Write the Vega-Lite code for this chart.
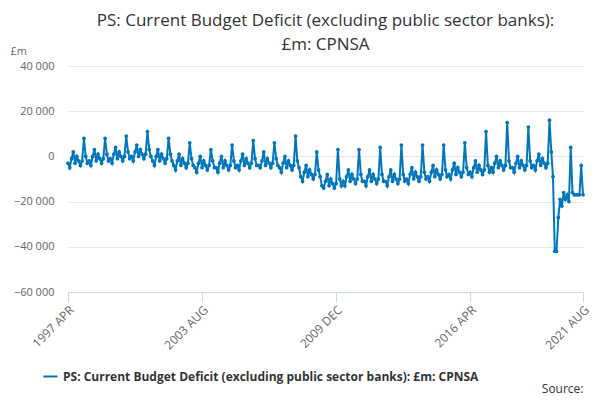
{
  "$schema": "https://vega.github.io/schema/vega-lite/v6.json",
  "width": 600,
  "height": 400,
  "autosize": {"type": "fit", "contains": "padding"},
  "padding": {"left": 10, "right": 9, "top": 12, "bottom": 5},
  "title": {
    "text": ["PS: Current Budget Deficit (excluding public sector banks):", "£m: CPNSA"],
    "fontSize": 17, "fontWeight": "normal", "color": "#333333", "font": "Open Sans", "lineHeight": 24, "offset": -9
  },
  "data": {"values": [
    {"d":"1997-04","v":-3000},{"d":"1997-05","v":-5000},{"d":"1997-06","v":-1000},{"d":"1997-07","v":2000},{"d":"1997-08","v":-3000},{"d":"1997-09","v":0},{"d":"1997-10","v":-2000},{"d":"1997-11","v":-4000},{"d":"1997-12","v":-2000},{"d":"1998-01","v":8000},{"d":"1998-02","v":0},{"d":"1998-03","v":-3000},
    {"d":"1998-04","v":-2000},{"d":"1998-05","v":-4000},{"d":"1998-06","v":0},{"d":"1998-07","v":3000},{"d":"1998-08","v":-2000},{"d":"1998-09","v":1000},{"d":"1998-10","v":-1000},{"d":"1998-11","v":-3000},{"d":"1998-12","v":-1000},{"d":"1999-01","v":8000},{"d":"1999-02","v":1000},{"d":"1999-03","v":-2000},
    {"d":"1999-04","v":-1000},{"d":"1999-05","v":-3000},{"d":"1999-06","v":1000},{"d":"1999-07","v":4000},{"d":"1999-08","v":-1000},{"d":"1999-09","v":2000},{"d":"1999-10","v":0},{"d":"1999-11","v":-2000},{"d":"1999-12","v":0},{"d":"2000-01","v":9000},{"d":"2000-02","v":2000},{"d":"2000-03","v":-1000},
    {"d":"2000-04","v":0},{"d":"2000-05","v":-2000},{"d":"2000-06","v":2000},{"d":"2000-07","v":5000},{"d":"2000-08","v":0},{"d":"2000-09","v":3000},{"d":"2000-10","v":1000},{"d":"2000-11","v":-1000},{"d":"2000-12","v":1000},{"d":"2001-01","v":11000},{"d":"2001-02","v":3000},{"d":"2001-03","v":0},
    {"d":"2001-04","v":-2000},{"d":"2001-05","v":-4000},{"d":"2001-06","v":0},{"d":"2001-07","v":3000},{"d":"2001-08","v":-2000},{"d":"2001-09","v":1000},{"d":"2001-10","v":-1000},{"d":"2001-11","v":-3000},{"d":"2001-12","v":-1000},{"d":"2002-01","v":8000},{"d":"2002-02","v":1000},{"d":"2002-03","v":-2000},
    {"d":"2002-04","v":-4000},{"d":"2002-05","v":-6000},{"d":"2002-06","v":-2000},{"d":"2002-07","v":1000},{"d":"2002-08","v":-4000},{"d":"2002-09","v":-1000},{"d":"2002-10","v":-3000},{"d":"2002-11","v":-5000},{"d":"2002-12","v":-3000},{"d":"2003-01","v":6000},{"d":"2003-02","v":-1000},{"d":"2003-03","v":-4000},
    {"d":"2003-04","v":-5000},{"d":"2003-05","v":-7000},{"d":"2003-06","v":-3000},{"d":"2003-07","v":0},{"d":"2003-08","v":-5000},{"d":"2003-09","v":-2000},{"d":"2003-10","v":-4000},{"d":"2003-11","v":-6000},{"d":"2003-12","v":-4000},{"d":"2004-01","v":3000},{"d":"2004-02","v":-2000},{"d":"2004-03","v":-5000},
    {"d":"2004-04","v":-5000},{"d":"2004-05","v":-7000},{"d":"2004-06","v":-3000},{"d":"2004-07","v":0},{"d":"2004-08","v":-5000},{"d":"2004-09","v":-2000},{"d":"2004-10","v":-4000},{"d":"2004-11","v":-6000},{"d":"2004-12","v":-4000},{"d":"2005-01","v":5000},{"d":"2005-02","v":-2000},{"d":"2005-03","v":-5000},
    {"d":"2005-04","v":-4000},{"d":"2005-05","v":-6000},{"d":"2005-06","v":-2000},{"d":"2005-07","v":1000},{"d":"2005-08","v":-4000},{"d":"2005-09","v":-1000},{"d":"2005-10","v":-3000},{"d":"2005-11","v":-5000},{"d":"2005-12","v":-3000},{"d":"2006-01","v":7000},{"d":"2006-02","v":-1000},{"d":"2006-03","v":-4000},
    {"d":"2006-04","v":-4000},{"d":"2006-05","v":-5000},{"d":"2006-06","v":-2000},{"d":"2006-07","v":2000},{"d":"2006-08","v":-4000},{"d":"2006-09","v":-1000},{"d":"2006-10","v":-3000},{"d":"2006-11","v":-5000},{"d":"2006-12","v":-3000},{"d":"2007-01","v":6000},{"d":"2007-02","v":-1000},{"d":"2007-03","v":-4000},
    {"d":"2007-04","v":-5000},{"d":"2007-05","v":-7000},{"d":"2007-06","v":-3000},{"d":"2007-07","v":0},{"d":"2007-08","v":-5000},{"d":"2007-09","v":-2000},{"d":"2007-10","v":-4000},{"d":"2007-11","v":-6000},{"d":"2007-12","v":-4000},{"d":"2008-01","v":9000},{"d":"2008-02","v":-2000},{"d":"2008-03","v":-5000},
    {"d":"2008-04","v":-9000},{"d":"2008-05","v":-11000},{"d":"2008-06","v":-7000},{"d":"2008-07","v":-4000},{"d":"2008-08","v":-9000},{"d":"2008-09","v":-6000},{"d":"2008-10","v":-8000},{"d":"2008-11","v":-10000},{"d":"2008-12","v":-8000},{"d":"2009-01","v":2000},{"d":"2009-02","v":-6000},{"d":"2009-03","v":-9000},
    {"d":"2009-04","v":-13000},{"d":"2009-05","v":-14000},{"d":"2009-06","v":-11000},{"d":"2009-07","v":-8000},{"d":"2009-08","v":-13000},{"d":"2009-09","v":-10000},{"d":"2009-10","v":-12000},{"d":"2009-11","v":-14000},{"d":"2009-12","v":-12000},{"d":"2010-01","v":3000},{"d":"2010-02","v":-10000},{"d":"2010-03","v":-13000},
    {"d":"2010-04","v":-11000},{"d":"2010-05","v":-13000},{"d":"2010-06","v":-9000},{"d":"2010-07","v":-6000},{"d":"2010-08","v":-11000},{"d":"2010-09","v":-8000},{"d":"2010-10","v":-10000},{"d":"2010-11","v":-12000},{"d":"2010-12","v":-10000},{"d":"2011-01","v":3000},{"d":"2011-02","v":-8000},{"d":"2011-03","v":-11000},
    {"d":"2011-04","v":-11000},{"d":"2011-05","v":-13000},{"d":"2011-06","v":-9000},{"d":"2011-07","v":-6000},{"d":"2011-08","v":-11000},{"d":"2011-09","v":-8000},{"d":"2011-10","v":-10000},{"d":"2011-11","v":-12000},{"d":"2011-12","v":-10000},{"d":"2012-01","v":4000},{"d":"2012-02","v":-8000},{"d":"2012-03","v":-11000},
    {"d":"2012-04","v":-11000},{"d":"2012-05","v":-13000},{"d":"2012-06","v":-9000},{"d":"2012-07","v":-6000},{"d":"2012-08","v":-11000},{"d":"2012-09","v":-8000},{"d":"2012-10","v":-10000},{"d":"2012-11","v":-12000},{"d":"2012-12","v":-10000},{"d":"2013-01","v":5000},{"d":"2013-02","v":-8000},{"d":"2013-03","v":-11000},
    {"d":"2013-04","v":-10000},{"d":"2013-05","v":-12000},{"d":"2013-06","v":-8000},{"d":"2013-07","v":-5000},{"d":"2013-08","v":-10000},{"d":"2013-09","v":-7000},{"d":"2013-10","v":-9000},{"d":"2013-11","v":-11000},{"d":"2013-12","v":-9000},{"d":"2014-01","v":5000},{"d":"2014-02","v":-7000},{"d":"2014-03","v":-10000},
    {"d":"2014-04","v":-9000},{"d":"2014-05","v":-11000},{"d":"2014-06","v":-7000},{"d":"2014-07","v":-4000},{"d":"2014-08","v":-9000},{"d":"2014-09","v":-6000},{"d":"2014-10","v":-8000},{"d":"2014-11","v":-10000},{"d":"2014-12","v":-8000},{"d":"2015-01","v":5000},{"d":"2015-02","v":-6000},{"d":"2015-03","v":-9000},
    {"d":"2015-04","v":-8000},{"d":"2015-05","v":-10000},{"d":"2015-06","v":-6000},{"d":"2015-07","v":-3000},{"d":"2015-08","v":-8000},{"d":"2015-09","v":-5000},{"d":"2015-10","v":-7000},{"d":"2015-11","v":-9000},{"d":"2015-12","v":-7000},{"d":"2016-01","v":6000},{"d":"2016-02","v":-5000},{"d":"2016-03","v":-8000},
    {"d":"2016-04","v":-7000},{"d":"2016-05","v":-9000},{"d":"2016-06","v":-5000},{"d":"2016-07","v":-2000},{"d":"2016-08","v":-7000},{"d":"2016-09","v":-4000},{"d":"2016-10","v":-6000},{"d":"2016-11","v":-8000},{"d":"2016-12","v":-6000},{"d":"2017-01","v":11000},{"d":"2017-02","v":-4000},{"d":"2017-03","v":-7000},
    {"d":"2017-04","v":-5000},{"d":"2017-05","v":-7000},{"d":"2017-06","v":-3000},{"d":"2017-07","v":0},{"d":"2017-08","v":-5000},{"d":"2017-09","v":-2000},{"d":"2017-10","v":-4000},{"d":"2017-11","v":-6000},{"d":"2017-12","v":-4000},{"d":"2018-01","v":15000},{"d":"2018-02","v":-2000},{"d":"2018-03","v":-5000},
    {"d":"2018-04","v":-5000},{"d":"2018-05","v":-7000},{"d":"2018-06","v":-3000},{"d":"2018-07","v":0},{"d":"2018-08","v":-5000},{"d":"2018-09","v":-2000},{"d":"2018-10","v":-4000},{"d":"2018-11","v":-6000},{"d":"2018-12","v":-4000},{"d":"2019-01","v":13000},{"d":"2019-02","v":-2000},{"d":"2019-03","v":-5000},
    {"d":"2019-04","v":-4000},{"d":"2019-05","v":-6000},{"d":"2019-06","v":-2000},{"d":"2019-07","v":1000},{"d":"2019-08","v":-4000},{"d":"2019-09","v":-1000},{"d":"2019-10","v":-3000},{"d":"2019-11","v":-5000},{"d":"2019-12","v":-3000},{"d":"2020-01","v":16000},{"d":"2020-02","v":2000},{"d":"2020-03","v":-9000},
    {"d":"2020-04","v":-42000},{"d":"2020-05","v":-42000},{"d":"2020-06","v":-27000},{"d":"2020-07","v":-19000},{"d":"2020-08","v":-22000},{"d":"2020-09","v":-16000},{"d":"2020-10","v":-19000},{"d":"2020-11","v":-17000},{"d":"2020-12","v":-20000},{"d":"2021-01","v":4000},{"d":"2021-02","v":-16000},{"d":"2021-03","v":-17000},
    {"d":"2021-04","v":-17000},{"d":"2021-05","v":-17000},{"d":"2021-06","v":-17000},{"d":"2021-07","v":-4000},{"d":"2021-08","v":-17000}
  ]},
  "transform": [
    {"calculate": "'PS: Current Budget Deficit (excluding public sector banks): £m: CPNSA'", "as": "series"}
  ],
  "mark": {"type": "line", "color": "#0076bd", "strokeWidth": 2, "point": {"filled": true, "size": 14, "color": "#0076bd"}},
  "encoding": {
    "x": {
      "field": "d", "type": "temporal",
      "scale": {"domain": [{"year": 1997, "month": 4, "date": 1}, {"year": 2021, "month": 8, "date": 1}]},
      "axis": {
        "values": [
          {"year": 1997, "month": 4, "date": 1},
          {"year": 2003, "month": 8, "date": 1},
          {"year": 2009, "month": 12, "date": 1},
          {"year": 2016, "month": 4, "date": 1},
          {"year": 2021, "month": 8, "date": 1}
        ],
        "labelExpr": "timeFormat(datum.value, '%Y ') + upper(timeFormat(datum.value, '%b'))",
        "labelAngle": -45, "labelAlign": "right", "labelBaseline": "top",
        "labelFontSize": 12, "labelColor": "#666666", "labelFont": "Open Sans",
        "grid": false, "domainColor": "#ccd6eb", "tickColor": "#ccd6eb", "tickSize": 10,
        "title": "Source:", "titleAnchor": "end", "titleFontWeight": "normal", "titleFontSize": 12,
        "titleColor": "#333333", "titleFont": "Open Sans", "titlePadding": 32
      }
    },
    "y": {
      "field": "v", "type": "quantitative",
      "scale": {"domain": [-60000, 40000], "nice": false},
      "axis": {
        "values": [-60000, -40000, -20000, 0, 20000, 40000],
        "labelExpr": "replace(format(datum.value, ','), ',', ' ')",
        "labelFontSize": 11, "labelColor": "#666666", "labelFont": "Open Sans", "labelPadding": 14,
        "domain": false, "ticks": false, "gridColor": "#e6e6e6",
        "title": "£m", "titleAngle": 0, "titleAlign": "left", "titleAnchor": "end",
        "titleX": -58, "titleY": -10, "titleFontWeight": "normal", "titleFontSize": 11,
        "titleColor": "#666666", "titleFont": "Open Sans"
      }
    },
    "color": {
      "field": "series", "type": "nominal",
      "scale": {"range": ["#0076bd"]},
      "legend": {
        "title": null, "orient": "none", "legendX": -26, "legendY": 302,
        "symbolType": "stroke", "symbolStrokeWidth": 2, "symbolSize": 200,
        "labelFontSize": 12, "labelFontWeight": "bold", "labelColor": "#333333",
        "labelFont": "Open Sans", "labelLimit": 600
      }
    }
  },
  "config": {"view": {"stroke": null}}
}
